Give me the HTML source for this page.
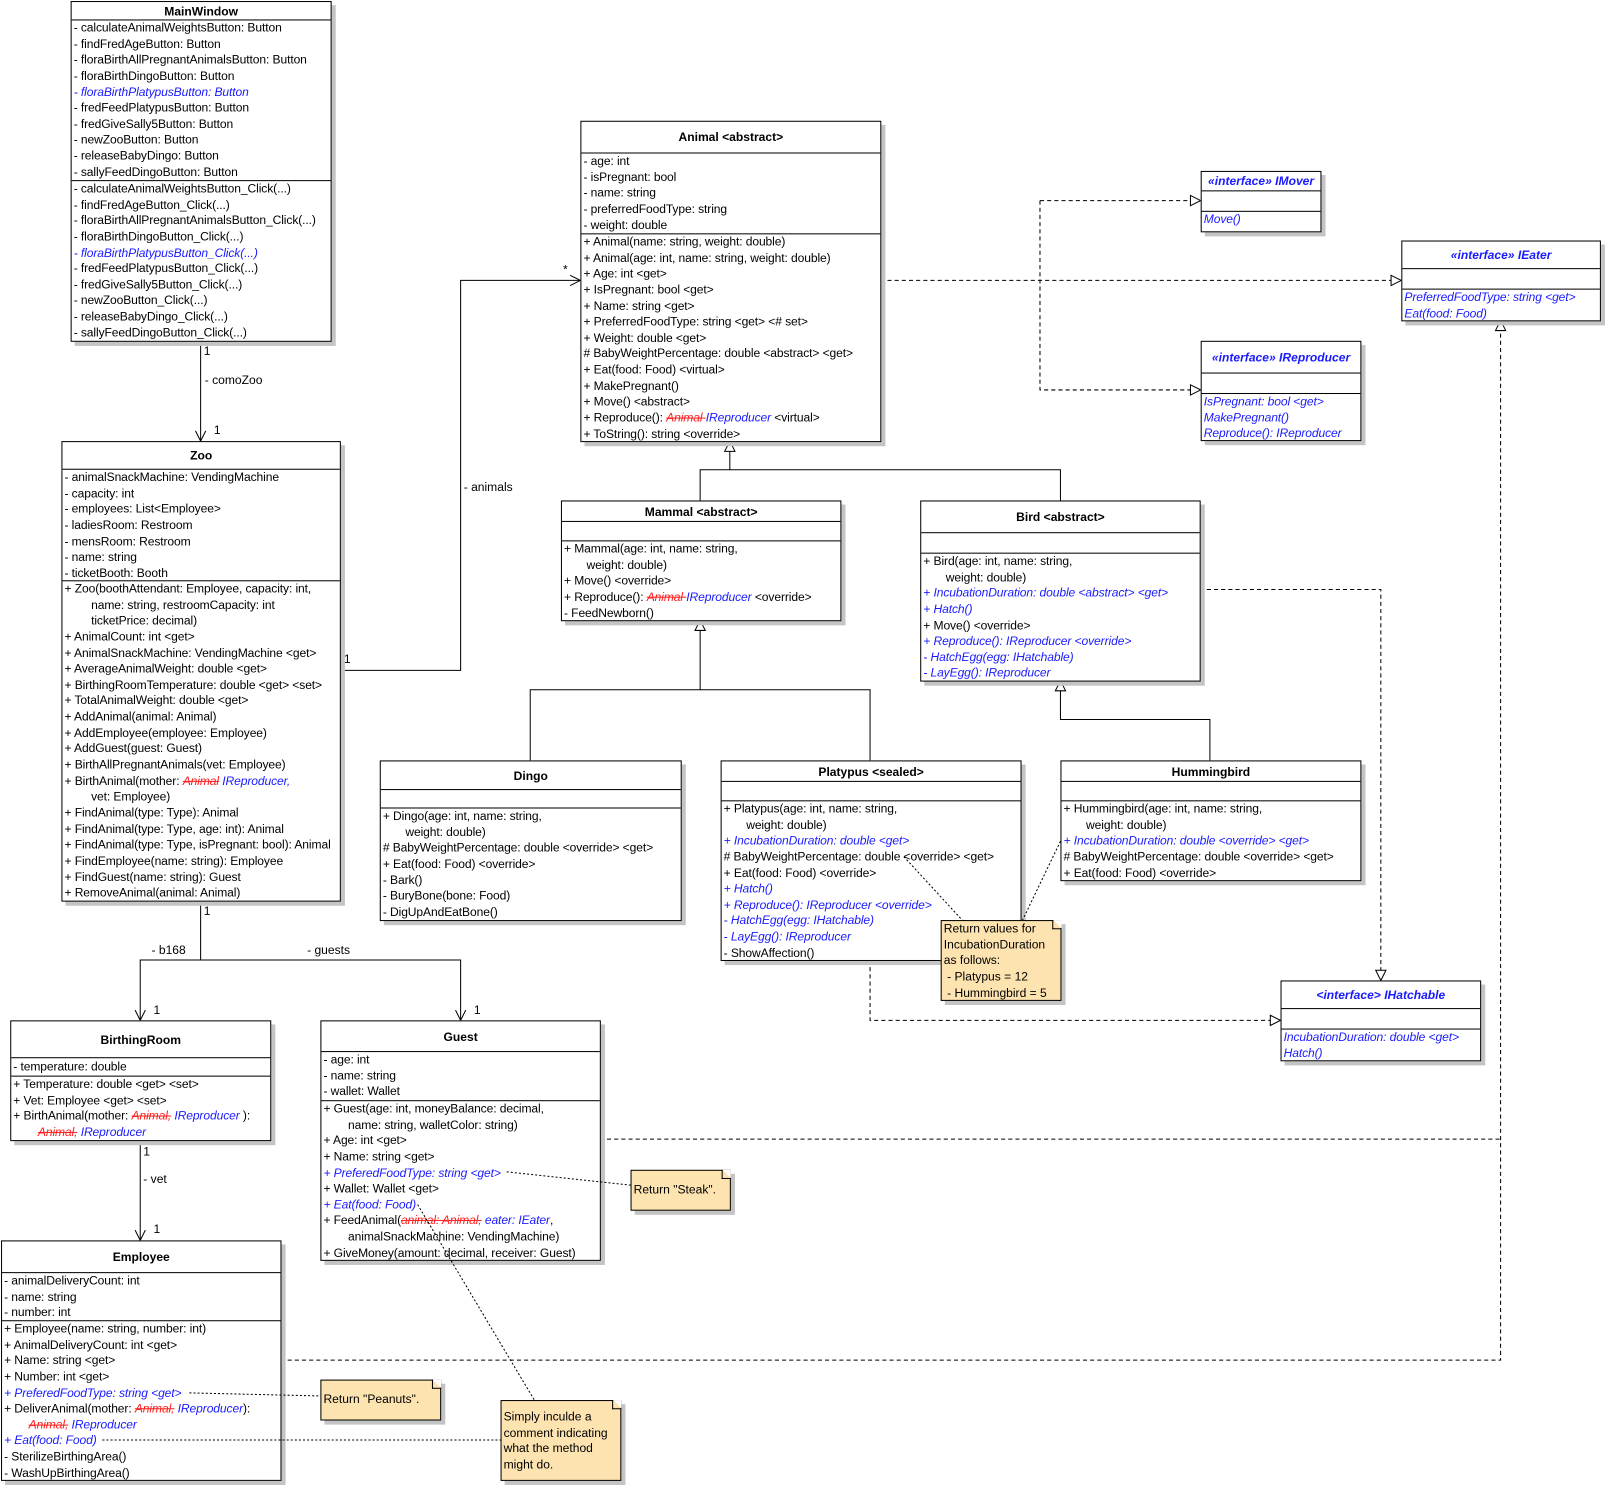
<!DOCTYPE html>
<html><head><meta charset="utf-8"><style>
html,body{margin:0;padding:0;background:#fff;}
#wrap{position:relative;width:1605px;height:1485px;overflow:hidden;}
#c{position:absolute;left:0;top:0;width:1568px;height:1451px;transform:scale(1.02360,1.02343);transform-origin:0 0;font-family:"Liberation Sans",Arial,sans-serif;font-size:11.8px;color:#000;}
.box{position:absolute;background:#fff;border:1px solid #000;box-shadow:4px 4px 0 #c4c4c4;box-sizing:border-box;}
.t{display:flex;align-items:center;justify-content:center;font-weight:bold;border-bottom:1px solid #000;box-sizing:border-box;}
.s{border-bottom:1px solid #000;box-sizing:border-box;overflow:hidden;}
.s:last-child{border-bottom:none;}
.r{height:15.65px;line-height:15.65px;white-space:nowrap;padding-left:2px;letter-spacing:-0.1px;}
.in{padding-left:28px;}
.b{color:#1a1aff;font-style:italic;}
.st{color:#ff2020;font-style:italic;text-decoration:line-through;}
.it{color:#1a1aff;font-style:italic;}
.note{position:absolute;background:#fde3b0;border:1px solid #000;box-shadow:4px 4px 0 #c4c4c4;box-sizing:border-box;padding:2px 2px;line-height:15.65px;font-size:11.8px;}
.note:after{content:"";position:absolute;right:-1px;top:-1px;width:9px;height:9px;background:linear-gradient(45deg,#fde3b0 50%,#fff 50%);border-left:1px solid #000;border-bottom:1px solid #000;box-sizing:border-box;}
svg{position:absolute;left:0;top:0;}
.lab{position:absolute;white-space:nowrap;font-size:11.8px;}
</style></head><body><div id="wrap"><div id="c">

<svg width="1568" height="1451" viewBox="0 0 1568 1451">
<g fill="none" stroke="#000" stroke-width="1">
<path d="M196 333V431"/><path d="M191 421L196 431L201 421"/>
<path d="M332 655H450V274H567"/><path d="M557 269L567 274L557 279"/>
<path d="M684 489V459H1036V489"/><path d="M713 459V431"/>
<path d="M708 441L713 431L718 441Z" fill="#fff"/>
<path d="M518 743V674H850V743"/><path d="M684 674V606"/>
<path d="M679 616L684 606L689 616Z" fill="#fff"/>
<path d="M1182 743V703H1036V665"/>
<path d="M1031 675L1036 665L1041 675Z" fill="#fff"/>
<path d="M196 880V938H137V997"/><path d="M196 938H450V997"/>
<path d="M132 987L137 997L142 987"/><path d="M445 987L450 997L455 987"/>
<path d="M137 1114V1212"/><path d="M132 1202L137 1212L142 1202"/>
</g>
<g fill="none" stroke="#000" stroke-width="1" stroke-dasharray="4,3">
<path d="M860 274H1366"/>
<path d="M1016 196H1170M1016 196V381H1170"/>
<path d="M1172 576H1349V955"/>
<path d="M850 938V997H1248"/>
<path d="M586 1113H1466M274 1329H1466V316"/>
</g>
<g fill="#fff" stroke="#000" stroke-width="1">
<path d="M1359 269L1369 274L1359 279Z"/>
<path d="M1163 191L1173 196L1163 201Z"/>
<path d="M1163 376L1173 381L1163 386Z"/>
<path d="M1344 948L1349 958L1354 948Z"/>
<path d="M1241 992L1251 997L1241 1002Z"/>
<path d="M1461 323L1466 313L1471 323Z"/>
</g>
</svg>

<div class="lab" style="left:199px;top:336px">1</div>
<div class="lab" style="left:200px;top:364px">- comoZoo</div>
<div class="lab" style="left:209px;top:413px">1</div>
<div class="lab" style="left:336px;top:637px">1</div>
<div class="lab" style="left:453px;top:469px">- animals</div>
<div class="lab" style="left:550px;top:256px">*</div>
<div class="lab" style="left:199px;top:883px">1</div>
<div class="lab" style="left:148px;top:921px">- b168</div>
<div class="lab" style="left:300px;top:921px">- guests</div>
<div class="lab" style="left:150px;top:980px">1</div>
<div class="lab" style="left:463px;top:980px">1</div>
<div class="lab" style="left:140px;top:1118px">1</div>
<div class="lab" style="left:140px;top:1145px">- vet</div>
<div class="lab" style="left:150px;top:1194px">1</div>

<div class="box" style="left:69px;top:1px;width:255px;height:333px">
<div class="t" style="height:18px">MainWindow</div>
<div class="s" style="height:157px">
<div class="r">- calculateAnimalWeightsButton: Button</div><div class="r">- findFredAgeButton: Button</div><div class="r">- floraBirthAllPregnantAnimalsButton: Button</div><div class="r">- floraBirthDingoButton: Button</div><div class="r b">- floraBirthPlatypusButton: Button</div><div class="r">- fredFeedPlatypusButton: Button</div><div class="r">- fredGiveSally5Button: Button</div><div class="r">- newZooButton: Button</div><div class="r">- releaseBabyDingo: Button</div><div class="r">- sallyFeedDingoButton: Button</div></div>
<div class="s" style="height:157px">
<div class="r">- calculateAnimalWeightsButton_Click(...)</div><div class="r">- findFredAgeButton_Click(...)</div><div class="r">- floraBirthAllPregnantAnimalsButton_Click(...)</div><div class="r">- floraBirthDingoButton_Click(...)</div><div class="r b">- floraBirthPlatypusButton_Click(...)</div><div class="r">- fredFeedPlatypusButton_Click(...)</div><div class="r">- fredGiveSally5Button_Click(...)</div><div class="r">- newZooButton_Click(...)</div><div class="r">- releaseBabyDingo_Click(...)</div><div class="r">- sallyFeedDingoButton_Click(...)</div></div>
</div>

<div class="box" style="left:60px;top:431px;width:273px;height:450px">
<div class="t" style="height:27px">Zoo</div>
<div class="s" style="height:109px">
<div class="r">- animalSnackMachine: VendingMachine</div><div class="r">- capacity: int</div><div class="r">- employees: List&lt;Employee&gt;</div><div class="r">- ladiesRoom: Restroom</div><div class="r">- mensRoom: Restroom</div><div class="r">- name: string</div><div class="r">- ticketBooth: Booth</div></div>
<div class="s" style="height:313px">
<div class="r">+ Zoo(boothAttendant: Employee, capacity: int,</div><div class="r in">name: string, restroomCapacity: int</div><div class="r in">ticketPrice: decimal)</div>
<div class="r">+ AnimalCount: int &lt;get&gt;</div><div class="r">+ AnimalSnackMachine: VendingMachine &lt;get&gt;</div><div class="r">+ AverageAnimalWeight: double &lt;get&gt;</div><div class="r">+ BirthingRoomTemperature: double &lt;get&gt; &lt;set&gt;</div><div class="r">+ TotalAnimalWeight: double &lt;get&gt;</div><div class="r">+ AddAnimal(animal: Animal)</div><div class="r">+ AddEmployee(employee: Employee)</div><div class="r">+ AddGuest(guest: Guest)</div><div class="r">+ BirthAllPregnantAnimals(vet: Employee)</div>
<div class="r">+ BirthAnimal(mother: <span class="st">Animal</span> <span class="it">IReproducer,</span></div><div class="r in">vet: Employee)</div>
<div class="r">+ FindAnimal(type: Type): Animal</div><div class="r">+ FindAnimal(type: Type, age: int): Animal</div><div class="r">+ FindAnimal(type: Type, isPregnant: bool): Animal</div><div class="r">+ FindEmployee(name: string): Employee</div><div class="r">+ FindGuest(name: string): Guest</div><div class="r">+ RemoveAnimal(animal: Animal)</div></div>
</div>

<div class="box" style="left:567px;top:118px;width:294px;height:314px">
<div class="t" style="height:31px">Animal &lt;abstract&gt;</div>
<div class="s" style="height:79px">
<div class="r">- age: int</div><div class="r">- isPregnant: bool</div><div class="r">- name: string</div><div class="r">- preferredFoodType: string</div><div class="r">- weight: double</div></div>
<div class="s" style="height:203px">
<div class="r">+ Animal(name: string, weight: double)</div><div class="r">+ Animal(age: int, name: string, weight: double)</div><div class="r">+ Age: int &lt;get&gt;</div><div class="r">+ IsPregnant: bool &lt;get&gt;</div><div class="r">+ Name: string &lt;get&gt;</div><div class="r">+ PreferredFoodType: string &lt;get&gt; &lt;# set&gt;</div><div class="r">+ Weight: double &lt;get&gt;</div><div class="r"># BabyWeightPercentage: double &lt;abstract&gt; &lt;get&gt;</div><div class="r">+ Eat(food: Food) &lt;virtual&gt;</div><div class="r">+ MakePregnant()</div><div class="r">+ Move() &lt;abstract&gt;</div><div class="r">+ Reproduce(): <span class="st">Animal </span><span class="it">IReproducer</span> &lt;virtual&gt;</div><div class="r">+ ToString(): string &lt;override&gt;</div></div>
</div>

<div class="box" style="left:1173px;top:167px;width:118px;height:60px">
<div class="t b" style="height:19px">«interface» IMover</div><div class="s" style="height:20px"></div><div class="s"><div class="r b">Move()</div></div></div>

<div class="box" style="left:1369px;top:235px;width:195px;height:79px">
<div class="t b" style="height:27px">«interface» IEater</div><div class="s" style="height:20px"></div><div class="s"><div class="r b">PreferredFoodType: string &lt;get&gt;</div><div class="r b">Eat(food: Food)</div></div></div>

<div class="box" style="left:1173px;top:333px;width:157px;height:98px">
<div class="t b" style="height:31px">«interface» IReproducer</div><div class="s" style="height:20px"></div><div class="s"><div class="r b">IsPregnant: bool &lt;get&gt;</div><div class="r b">MakePregnant()</div><div class="r b">Reproduce(): IReproducer</div></div></div>

<div class="box" style="left:1251px;top:958px;width:196px;height:79px">
<div class="t b" style="height:27px">&lt;interface&gt; IHatchable</div><div class="s" style="height:20px"></div><div class="s"><div class="r b">IncubationDuration: double &lt;get&gt;</div><div class="r b">Hatch()</div></div></div>

<div class="box" style="left:548px;top:489px;width:274px;height:118px">
<div class="t" style="height:20px">Mammal &lt;abstract&gt;</div><div class="s" style="height:19px"></div>
<div class="s"><div class="r">+ Mammal(age: int, name: string,</div><div class="r in" style="padding-left:24px">weight: double)</div><div class="r">+ Move() &lt;override&gt;</div><div class="r">+ Reproduce(): <span class="st">Animal </span><span class="it">IReproducer</span> &lt;override&gt;</div><div class="r">- FeedNewborn()</div></div></div>

<div class="box" style="left:899px;top:489px;width:274px;height:177px">
<div class="t" style="height:31px">Bird &lt;abstract&gt;</div><div class="s" style="height:20px"></div>
<div class="s"><div class="r">+ Bird(age: int, name: string,</div><div class="r in" style="padding-left:24px">weight: double)</div><div class="r b">+ IncubationDuration: double &lt;abstract&gt; &lt;get&gt;</div><div class="r b">+ Hatch()</div><div class="r">+ Move() &lt;override&gt;</div><div class="r b">+ Reproduce(): IReproducer &lt;override&gt;</div><div class="r b">- HatchEgg(egg: IHatchable)</div><div class="r b">- LayEgg(): IReproducer</div></div></div>

<div class="box" style="left:371px;top:743px;width:295px;height:157px">
<div class="t" style="height:28px">Dingo</div><div class="s" style="height:18px"></div>
<div class="s"><div class="r">+ Dingo(age: int, name: string,</div><div class="r in" style="padding-left:24px">weight: double)</div><div class="r"># BabyWeightPercentage: double &lt;override&gt; &lt;get&gt;</div><div class="r">+ Eat(food: Food) &lt;override&gt;</div><div class="r">- Bark()</div><div class="r">- BuryBone(bone: Food)</div><div class="r">- DigUpAndEatBone()</div></div></div>

<div class="box" style="left:704px;top:743px;width:294px;height:196px">
<div class="t" style="height:20px">Platypus &lt;sealed&gt;</div><div class="s" style="height:19px"></div>
<div class="s"><div class="r">+ Platypus(age: int, name: string,</div><div class="r in" style="padding-left:24px">weight: double)</div><div class="r b">+ IncubationDuration: double &lt;get&gt;</div><div class="r"># BabyWeightPercentage: double &lt;override&gt; &lt;get&gt;</div><div class="r">+ Eat(food: Food) &lt;override&gt;</div><div class="r b">+ Hatch()</div><div class="r b">+ Reproduce(): IReproducer &lt;override&gt;</div><div class="r b">- HatchEgg(egg: IHatchable)</div><div class="r b">- LayEgg(): IReproducer</div><div class="r">- ShowAffection()</div></div></div>

<div class="box" style="left:1036px;top:743px;width:294px;height:118px">
<div class="t" style="height:20px">Hummingbird</div><div class="s" style="height:19px"></div>
<div class="s"><div class="r">+ Hummingbird(age: int, name: string,</div><div class="r in" style="padding-left:24px">weight: double)</div><div class="r b">+ IncubationDuration: double &lt;override&gt; &lt;get&gt;</div><div class="r"># BabyWeightPercentage: double &lt;override&gt; &lt;get&gt;</div><div class="r">+ Eat(food: Food) &lt;override&gt;</div></div></div>

<div class="box" style="left:10px;top:997px;width:255px;height:118px">
<div class="t" style="height:36px">BirthingRoom</div><div class="s" style="height:18px"><div class="r" style="line-height:17px">- temperature: double</div></div>
<div class="s"><div class="r">+ Temperature: double &lt;get&gt; &lt;set&gt;</div><div class="r">+ Vet: Employee &lt;get&gt; &lt;set&gt;</div><div class="r">+ BirthAnimal(mother: <span class="st">Animal,</span> <span class="it">IReproducer</span> ):</div><div class="r in" style="padding-left:26px"><span class="st">Animal,</span> <span class="it">IReproducer</span></div></div></div>

<div class="box" style="left:313px;top:997px;width:274px;height:235px">
<div class="t" style="height:30px">Guest</div><div class="s" style="height:48px">
<div class="r">- age: int</div><div class="r">- name: string</div><div class="r">- wallet: Wallet</div></div>
<div class="s"><div class="r">+ Guest(age: int, moneyBalance: decimal,</div><div class="r in" style="padding-left:26px">name: string, walletColor: string)</div><div class="r">+ Age: int &lt;get&gt;</div><div class="r">+ Name: string &lt;get&gt;</div><div class="r b">+ PreferedFoodType: string &lt;get&gt;</div><div class="r">+ Wallet: Wallet &lt;get&gt;</div><div class="r b">+ Eat(food: Food)</div><div class="r">+ FeedAnimal(<span class="st">animal: Animal,</span> <span class="it">eater: IEater</span>,</div><div class="r in" style="padding-left:26px">animalSnackMachine: VendingMachine)</div><div class="r">+ GiveMoney(amount: decimal, receiver: Guest)</div></div></div>

<div class="box" style="left:1px;top:1212px;width:274px;height:235px">
<div class="t" style="height:31px">Employee</div><div class="s" style="height:47px">
<div class="r">- animalDeliveryCount: int</div><div class="r">- name: string</div><div class="r">- number: int</div></div>
<div class="s"><div class="r">+ Employee(name: string, number: int)</div><div class="r">+ AnimalDeliveryCount: int &lt;get&gt;</div><div class="r">+ Name: string &lt;get&gt;</div><div class="r">+ Number: int &lt;get&gt;</div><div class="r b">+ PreferedFoodType: string &lt;get&gt;</div><div class="r">+ DeliverAnimal(mother: <span class="st">Animal,</span> <span class="it">IReproducer</span>):</div><div class="r in" style="padding-left:26px"><span class="st">Animal,</span> <span class="it">IReproducer</span></div><div class="r b">+ Eat(food: Food)</div><div class="r">- SterilizeBirthingArea()</div><div class="r">- WashUpBirthingArea()</div></div></div>

<div class="note" style="left:919px;top:899px;width:118px;height:79px;padding-top:0">Return values for IncubationDuration as follows:<br>&nbsp;- Platypus = 12<br>&nbsp;- Hummingbird = 5</div>
<div class="note" style="left:616px;top:1143px;width:98px;height:40px;padding-top:11px">Return "Steak".</div>
<div class="note" style="left:313px;top:1348px;width:118px;height:40px;padding-top:11px">Return "Peanuts".</div>
<div class="note" style="left:489px;top:1368px;width:118px;height:79px;padding-top:8px">Simply inculde a comment indicating what the method might do.</div>

<svg width="1568" height="1451" viewBox="0 0 1568 1451" style="pointer-events:none">
<g fill="none" stroke="#000" stroke-width="1" stroke-dasharray="2,2">
<path d="M883 837L940 899"/><path d="M1036 822L999 899"/>
<path d="M495 1145L616 1158"/><path d="M408 1177L522 1368"/>
<path d="M185 1361L313 1364"/><path d="M100 1407H489"/>
</g>
</svg>

</div></div></body></html>
